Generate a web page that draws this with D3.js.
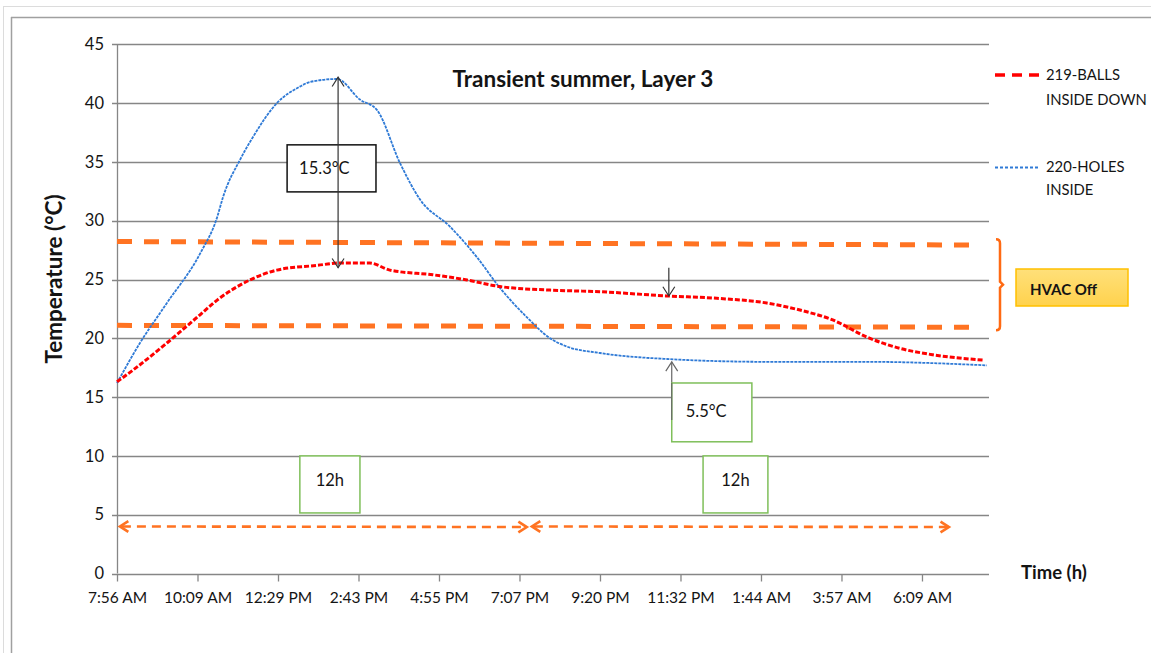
<!DOCTYPE html>
<html><head><meta charset="utf-8">
<script src="https://cdn.jsdelivr.net/npm/d3@7"></script>
<style>
html,body{margin:0;padding:0;background:#fff;}
svg{display:block;font-family:Lato,"Liberation Sans",sans-serif;}
</style></head>
<body><div id="chart"></div>
<script>
// ---- data (hours since 7:56 AM, temperature °C) ----
const redHours  = [0,0.44,1.37,2.28,2.75,3.65,4.39,5.49,6.12,6.94,7.49,8.67,9.61,10.51,11.89,13.26,15.10,16.47,17.84,18.75,19.65,20.59,21.49,22.40,23.77];
const redTemps  = [16.3,17.3,19.6,22.0,23.25,24.96,25.8,26.2,26.4,26.4,25.8,25.4,24.96,24.4,24.1,23.96,23.6,23.4,23.0,22.4,21.56,20.1,19.15,18.6,18.15];
const blueHours = [0,0.63,1.37,2.28,2.75,2.91,3.38,3.73,4.39,5.02,5.30,6.04,6.67,7.14,7.77,8.32,9.14,9.88,10.51,11.25,11.89,12.35,13.26,15.10,17.84,20.59,23.88];
const blueTemps = [16.2,19.6,23.0,27.2,30.3,32.0,35.2,37.1,40.0,41.4,41.8,42.05,40.3,39.4,34.9,31.8,29.5,26.9,24.3,21.8,20.0,19.3,18.75,18.24,18.0,18.0,17.7];
const tickHours  = [0,2.21,4.42,6.63,8.84,11.05,13.26,15.47,17.68,19.89,22.10];
const tickLabels = ["7:56 AM","10:09 AM","12:29 PM","2:43 PM","4:55 PM","7:07 PM","9:20 PM","11:32 PM","1:44 AM","3:57 AM","6:09 AM"];
const yTicks = [0,5,10,15,20,25,30,35,40,45];
const seriesNames = ["219-BALLS","220-HOLES"];
const hvacUpper = [[0,28.23],[23.55,27.93]];
const hvacLower = [[0,21.1],[23.55,20.94]];
const peakDiff = {h:6.07, top:42.2, bottom:26.0, label:"15.3°C"};
const lowDiff = {h1:15.15, top1:26.0, bottom1:23.6, h2:15.23, top2:18.0, bottom2:13.06, label:"5.5°C"};
const periods = [[0.08,11.25],[11.39,22.84]];

const W=1151,H=653;
const svg=d3.select("#chart").append("svg").attr("width",W).attr("height",H);
const ink="#141414";

// frames
svg.append("line").attr("x1",3.5).attr("x2",3.5).attr("y1",6).attr("y2",H).attr("stroke","#dcdcdc");
svg.append("line").attr("x1",3).attr("x2",W).attr("y1",6.5).attr("y2",6.5).attr("stroke","#dcdcdc");
svg.append("line").attr("x1",11.5).attr("x2",11.5).attr("y1",17).attr("y2",H).attr("stroke","#a0a0a0").attr("stroke-width",1.5);
svg.append("line").attr("x1",11).attr("x2",W).attr("y1",17.5).attr("y2",17.5).attr("stroke","#a0a0a0").attr("stroke-width",1.5);

const x=d3.scaleLinear().domain([0,23.94]).range([117,989]);
const y=d3.scaleLinear().domain([0,45]).range([573.5,44.3]);

// gridlines
svg.append("g").selectAll("line").data(yTicks).join("line")
  .attr("x1",112).attr("x2",989).attr("y1",d=>Math.round(y(d))+0.5).attr("y2",d=>Math.round(y(d))+0.5)
  .attr("stroke","#868686").attr("stroke-width",1.3);
svg.append("line").attr("x1",117.5).attr("x2",117.5).attr("y1",y(45)).attr("y2",y(0)).attr("stroke","#868686").attr("stroke-width",1.3);

// y axis labels
const yAxis=d3.axisLeft(y).tickValues(yTicks).tickSize(0).tickPadding(13);
const gy=svg.append("g").attr("transform","translate(117,0)").call(yAxis);
gy.select(".domain").remove();
gy.selectAll("text").attr("font-family","Lato, sans-serif").attr("font-size",16.5).attr("fill",ink);

// x axis
const xAxis=d3.axisBottom(x).tickValues(tickHours).tickFormat((d,i)=>tickLabels[i]).tickSize(7).tickPadding(10);
const gx=svg.append("g").attr("transform","translate(0,"+(Math.round(y(0))+0.5)+")").call(xAxis);
gx.select(".domain").remove();
gx.selectAll("line").attr("stroke","#868686").attr("stroke-width",1.3);
gx.selectAll("text").attr("font-family","Lato, sans-serif").attr("font-size",15.5).attr("fill",ink);

// HVAC dashed lines
const orange="#ff7322";
[hvacUpper,hvacLower].forEach(seg=>{
  svg.append("line").attr("x1",x(seg[0][0])).attr("y1",y(seg[0][1])).attr("x2",x(seg[1][0])).attr("y2",y(seg[1][1]))
   .attr("stroke",orange).attr("stroke-width",5).attr("stroke-dasharray","15,12");
});

// series lines
const line=d3.line().x(d=>x(d[0])).y(d=>y(d[1])).curve(d3.curveMonotoneX);
const blueData=blueHours.map((h,i)=>[h,blueTemps[i]]);
const redData=redHours.map((h,i)=>[h,redTemps[i]]);
svg.append("path").datum(blueData).attr("d",line).attr("fill","none").attr("stroke","#2f7ad6").attr("stroke-width",1.8).attr("stroke-dasharray","3,1");
svg.append("path").datum(redData).attr("d",line).attr("fill","none").attr("stroke","#ff0000").attr("stroke-width",3).attr("stroke-dasharray","5,2");

// arrow helpers
function openHead(px,py,dir,color,size,sw){
  const a=Math.PI/5.5;
  const p1=[px-size*Math.cos(dir-a),py-size*Math.sin(dir-a)];
  const p2=[px-size*Math.cos(dir+a),py-size*Math.sin(dir+a)];
  svg.append("path").attr("d",`M${p1[0]},${p1[1]}L${px},${py}L${p2[0]},${p2[1]}`)
    .attr("fill","none").attr("stroke",color).attr("stroke-width",sw).attr("stroke-linejoin","miter");
}
const arrowCol="#333";
function box(x1,x2,v1,v2,stroke,sw){
  svg.append("rect").attr("x",x(x1)).attr("y",y(v1)).attr("width",x(x2)-x(x1)).attr("height",y(v2)-y(v1))
   .attr("fill","#fff").attr("stroke",stroke).attr("stroke-width",sw);
}
// 15.3 box
box(4.67,7.11,36.45,32.45,"#111",1.5);
svg.append("line").attr("x1",x(peakDiff.h)).attr("x2",x(peakDiff.h)).attr("y1",y(peakDiff.top)).attr("y2",y(peakDiff.bottom)).attr("stroke",arrowCol).attr("stroke-width",1.2);
openHead(x(peakDiff.h),y(peakDiff.top),-Math.PI/2,arrowCol,11,1.2);
openHead(x(peakDiff.h),y(peakDiff.bottom),Math.PI/2,arrowCol,11,1.2);
svg.append("text").attr("x",x(4.67)+12).attr("y",y(34.45)).attr("dy","0.35em").attr("font-size",16.5).attr("fill",ink).text(peakDiff.label);

// 5.5 annotation
svg.append("line").attr("x1",x(lowDiff.h1)).attr("x2",x(lowDiff.h1)).attr("y1",y(lowDiff.top1)).attr("y2",y(lowDiff.bottom1)).attr("stroke",arrowCol).attr("stroke-width",1.2);
openHead(x(lowDiff.h1),y(lowDiff.bottom1),Math.PI/2,arrowCol,11,1.2);
svg.append("line").attr("x1",x(lowDiff.h2)).attr("x2",x(lowDiff.h2)).attr("y1",y(lowDiff.top2)).attr("y2",y(lowDiff.bottom2)).attr("stroke","#666").attr("stroke-width",1.2);
openHead(x(lowDiff.h2),y(lowDiff.top2),-Math.PI/2,"#666",11,1.2);
box(15.23,17.43,16.2,11.2,"#7fbf5a",1.5);
svg.append("line").attr("x1",x(lowDiff.h2)).attr("x2",x(lowDiff.h2)).attr("y1",y(16.2)).attr("y2",y(lowDiff.bottom2)).attr("stroke","#666").attr("stroke-width",1.2);
svg.append("text").attr("x",x(15.23)+14).attr("y",y(13.8)).attr("dy","0.35em").attr("font-size",16.5).attr("fill",ink).text(lowDiff.label);

// 12h boxes
[[5.02,6.67],[16.09,17.87]].forEach(b=>{
  box(b[0],b[1],10.0,5.15,"#7fbf5a",1.5);
  svg.append("text").attr("x",(x(b[0])+x(b[1]))/2).attr("y",y(7.9)).attr("dy","0.35em").attr("text-anchor","middle").attr("font-size",16.5).attr("fill",ink).text("12h");
});

// period arrows
periods.forEach(p=>{
  svg.append("line").attr("x1",x(p[0])+2).attr("x2",x(p[1])-2).attr("y1",y(4.0)).attr("y2",y(3.95))
    .attr("stroke",orange).attr("stroke-width",2.6).attr("stroke-dasharray","9,6");
  openHead(x(p[0]),y(4.0),Math.PI,orange,10,2.6);
  openHead(x(p[1]),y(3.95),0,orange,10,2.6);
});

// title
svg.append("text").attr("x",583).attr("y",79).attr("dy","0.35em").attr("text-anchor","middle")
  .attr("font-size",22.5).attr("font-weight",700).attr("fill",ink).text("Transient summer, Layer 3");

// axis titles
svg.append("text").attr("transform","translate(54,279) rotate(-90)").attr("dy","0.35em").attr("text-anchor","middle")
  .attr("font-size",22.5).attr("font-weight",700).attr("fill",ink).text("Temperature (°C)");
svg.append("text").attr("x",1021).attr("y",573).attr("dy","0.35em")
  .attr("font-size",18.5).attr("font-weight",700).attr("fill",ink).text("Time (h)");

// legend
const lg=svg.append("g");
lg.append("line").attr("x1",995).attr("x2",1040).attr("y1",75).attr("y2",75).attr("stroke","#ff0000").attr("stroke-width",3.5).attr("stroke-dasharray","10,7");
lg.append("text").attr("x",1046).attr("y",75).attr("dy","0.35em").attr("font-size",14.8).attr("fill",ink).text(seriesNames[0]);
lg.append("text").attr("x",1046).attr("y",100).attr("dy","0.35em").attr("font-size",14.8).attr("fill",ink).text("INSIDE DOWN");
lg.append("line").attr("x1",995).attr("x2",1039).attr("y1",167.5).attr("y2",167.5).attr("stroke","#2f7ad6").attr("stroke-width",2).attr("stroke-dasharray","3,2");
lg.append("text").attr("x",1046).attr("y",167).attr("dy","0.35em").attr("font-size",14.8).attr("fill",ink).text(seriesNames[1]);
lg.append("text").attr("x",1046).attr("y",190).attr("dy","0.35em").attr("font-size",14.8).attr("fill",ink).text("INSIDE");

// HVAC bracket
const bTop=y(28.0)-5, bBot=y(20.94)+3, bMid=(bTop+bBot)/2;
svg.append("path").attr("d",`M996,${bTop}Q1000,${bTop} 1000,${bTop+4}L1000,${bMid-3}L1003,${bMid}L1000,${bMid+3}L1000,${bBot-4}Q1000,${bBot} 996,${bBot}`)
  .attr("fill","none").attr("stroke","#ff6a13").attr("stroke-width",2.5);
const grad=svg.append("defs").append("linearGradient").attr("id","hv").attr("x1",0).attr("x2",0).attr("y1",0).attr("y2",1);
grad.append("stop").attr("offset","0%").attr("stop-color","#ffe07a");
grad.append("stop").attr("offset","100%").attr("stop-color","#ffd24d");
svg.append("rect").attr("x",1016).attr("y",269).attr("width",112).attr("height",37).attr("fill","url(#hv)").attr("stroke","#ffc000").attr("stroke-width",1.5);
svg.append("text").attr("x",1030).attr("y",290).attr("dy","0.35em").attr("font-size",15).attr("font-weight",700).attr("fill",ink).text("HVAC Off");
</script></body></html>
